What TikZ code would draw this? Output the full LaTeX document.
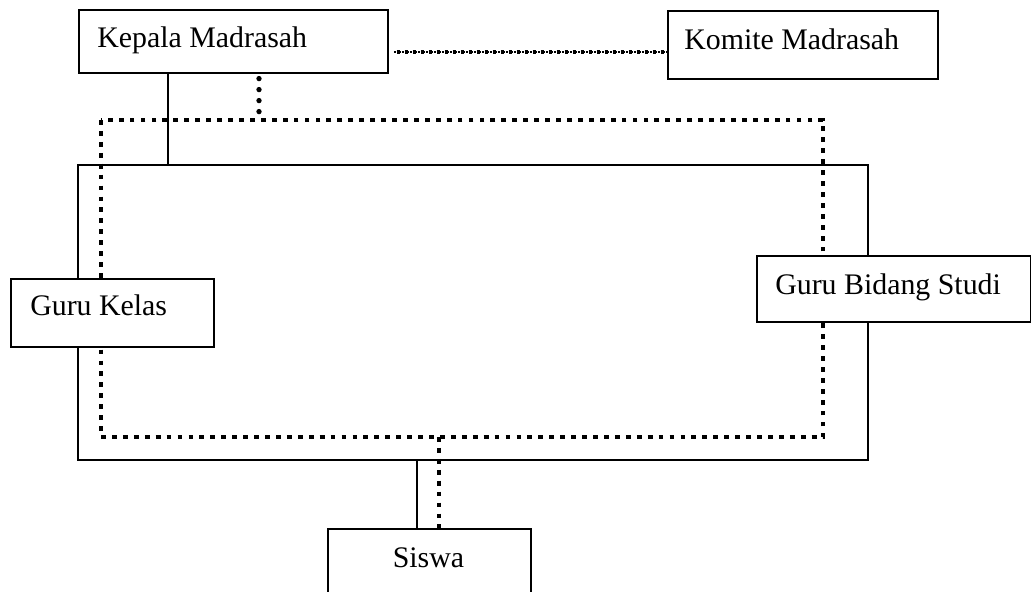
\documentclass[tikz,border=0pt]{standalone}
\usepackage{fontspec}
\setmainfont{Liberation Serif}
\begin{document}
\begin{tikzpicture}[x=0.75pt,y=-0.75pt,
  box/.style={draw=black,line width=1.2pt,fill=white,rectangle,anchor=north west,inner sep=0pt},
  lbl/.style={anchor=base west,inner sep=0pt,font=\fontsize{22.4}{26}\selectfont},
  frame/.style={draw=black,line width=1.1pt},
  bigdots/.style={draw=black,line width=3.6pt,dash pattern=on 3.6pt off 4.6pt},
  rounddots/.style={draw=black,line width=4pt,line cap=round,dash pattern=on 0pt off 8.25pt,dash phase=4.5pt},
  thinline/.style={draw=black,line width=1pt,dash pattern=on 1.2pt off 0.8pt},
  thinsq/.style={draw=black,line width=2.6pt,dash pattern=on 2.6pt off 3.4pt}]
\useasboundingbox (0,0) rectangle (1031,592);
% frame and dotted frame
\coordinate (ftl) at (78,165);
\coordinate (fbr) at (868,460);
\coordinate (dtl) at (101,120);
\coordinate (dbr) at (823,437);
\draw[frame] (ftl) rectangle (fbr);
\draw[bigdots] (dtl) rectangle (dbr);
% top boxes
\node[box,minimum width=231.75pt,minimum height=47.25pt] (kep) at (78,9) {};
\node[lbl] (kepT) at (97,48) {Kepala Madrasah};
\node[box,minimum width=202.5pt,minimum height=51pt] (kom) at (667,10) {};
\node[lbl] (komT) at (684,50) {Komite Madrasah};
% connectors
\coordinate (kx) at (168,0);
\coordinate (kd) at (259,0);
\coordinate (ky) at (0,52);
\coordinate (sx) at (417,0);
\coordinate (sd) at (439,0);
\draw[frame] (kep.south -| kx) -- (ftl -| kx);
\draw[rounddots] (kep.south -| kd) -- (dtl -| kd);
\draw[thinline] ([xshift=4pt]kep.east |- ky) -- (kom.west |- ky);
\draw[thinsq] ([xshift=6pt]kep.east |- ky) -- (kom.west |- ky);
% side and bottom boxes
\node[box,minimum width=152.25pt,minimum height=51pt] (gk) at (10,278) {};
\node[lbl] (gkT) at (30,315) {Guru Kelas};
\node[box,minimum width=205.5pt,minimum height=49.5pt] (gb) at (756,255) {};
\node[lbl] (gbT) at (775,294) {Guru Bidang Studi};
\node[box,minimum width=152.25pt,minimum height=48pt] (sis) at (327,528) {};
\node[lbl,anchor=base] (sisT) at (428.5,567) {Siswa};
\draw[frame] (fbr -| sx) -- (sis.north -| sx);
\draw[bigdots] (dbr -| sd) -- (sis.north -| sd);
\end{tikzpicture}
\end{document}
